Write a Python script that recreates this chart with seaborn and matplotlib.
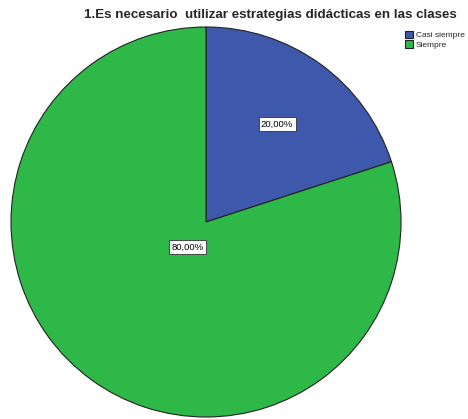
import numpy as np
import matplotlib
matplotlib.use('Agg')
import matplotlib.pyplot as plt
import seaborn as sns

# data
categories = ['Casi siempre', 'Siempre']
percentages = [20.0, 80.0]
colors = ['#3e58ac', '#2eb848']
title = '1.Es necesario  utilizar estrategias didácticas en las clases'

sns.set_style('white')
plt.rcParams['font.family'] = ['Liberation Sans', 'DejaVu Sans']

W, H = 468, 419
fig = plt.figure(figsize=(W / 100, H / 100), dpi=100)
ax = fig.add_axes([0, 0, 1, 1])

# pie laid out in pixel space so it sits where the original does
cx, cy, r = 206, 222, 195
wedges, texts, autotexts = ax.pie(
    percentages, colors=colors, startangle=90, counterclock=False,
    center=(cx, -cy), radius=r,
    autopct=lambda p: f'{p:.2f}%'.replace('.', ','),
    wedgeprops=dict(edgecolor='#222222', linewidth=0.8),
    textprops=dict(fontsize=6.8, color='black'),
)

# SPSS puts labels at different distances from the centre
label_dist = [0.62, 0.16]
for w, t, d in zip(wedges, autotexts, label_dist):
    ang = np.deg2rad((w.theta1 + w.theta2) / 2)
    t.set_position((cx + d * r * np.cos(ang), -cy + d * r * np.sin(ang)))
    t.set_bbox(dict(facecolor='white', edgecolor='#333333', linewidth=0.6,
                    boxstyle='square,pad=0.25'))

ax.set_xlim(0, W)
ax.set_ylim(-H, 0)
ax.set_aspect('equal')
ax.axis('off')

fig.text(270 / W, 1 - 15 / H, title, ha='center', va='center',
         fontsize=9.6, fontweight='bold')

leg = ax.legend(wedges, categories, loc='upper left',
                bbox_to_anchor=(399 / W, 1 - 25 / H), frameon=False,
                fontsize=6.0, handlelength=1.0, handleheight=1.0,
                handletextpad=0.3, labelspacing=0.12, borderpad=0.2)

fig.savefig('out.png', dpi=100, facecolor='white')
